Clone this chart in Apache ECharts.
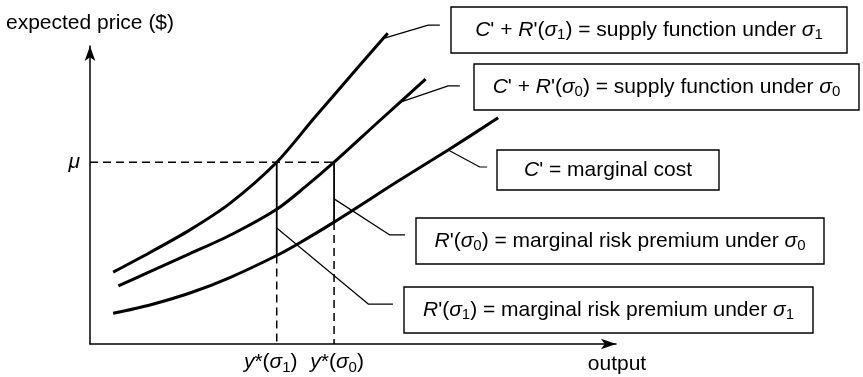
<!DOCTYPE html>
<html>
<head>
<meta charset="utf-8">
<title>supply under risk</title>
<script src="https://cdn.jsdelivr.net/npm/echarts@6/dist/echarts.min.js"></script>
<style>
    html, body { margin: 0; padding: 0; background: #fff; }
    #main { width: 863px; height: 377px; }
</style>
</head>
<body>
<div id="main"></div>
<script type="text/javascript">
    // curves, [output, price] in axis units (0..10)
    var supplySigma1 = [[0.44, 2.41], [1.14, 3.07], [1.90, 3.83], [2.66, 4.72], [3.55, 6.10],
        [4.27, 7.60], [5.03, 9.15], [5.66, 10.43]];
    var supplySigma0 = [[0.54, 1.95], [1.14, 2.43], [1.90, 3.03], [2.72, 3.70], [3.55, 4.52],
        [4.09, 5.27], [4.64, 6.10], [5.51, 7.50], [6.38, 8.89]];
    var marginalCost = [[0.44, 1.03], [1.14, 1.31], [1.90, 1.71], [2.66, 2.23], [3.55, 2.97],
        [3.99, 3.40], [4.64, 4.09], [5.89, 5.50], [6.81, 6.51], [7.76, 7.59]];

    var mu = 6.10;
    var yStar1 = 3.55;
    var yStar0 = 4.64;
    var costAtY1 = 2.97;   // marginal cost at y*(sigma1)
    var costAtY0 = 4.09;   // marginal cost at y*(sigma0)

    // leader lines from curves to their captions
    var leaderSupply1 = [[5.55, 10.24], [6.43, 10.70], [6.65, 10.70]];
    var leaderSupply0 = [[5.86, 8.09], [6.81, 8.66], [7.03, 8.66]];
    var leaderCost = [[6.81, 6.51], [7.41, 5.94], [7.55, 5.94]];
    var leaderRisk0 = [[yStar0, 4.87], [5.70, 3.66], [5.99, 3.66]];
    var leaderRisk1 = [[yStar1, 3.89], [5.29, 1.34], [5.76, 1.34]];

    var FONT = '"Liberation Sans", Arial, Helvetica, sans-serif';
    var rich = {
        n: {fontSize: 21, lineHeight: 25, fontFamily: FONT, color: '#000', fill: '#000'},
        i: {fontSize: 21, lineHeight: 25, fontFamily: FONT, fontStyle: 'italic', color: '#000', fill: '#000'},
        s: {fontSize: 15, lineHeight: 15, fontFamily: FONT, verticalAlign: 'bottom', color: '#000', fill: '#000'}
    };

    var captions = [
        {box: [451, 7, 396, 46], text: "{i|C}{n|' + }{i|R}{n|'(}{i|σ}{s|1}{n|) = supply function under }{i|σ}{s|1}"},
        {box: [474, 64, 385, 46], text: "{i|C}{n|' + }{i|R}{n|'(}{i|σ}{s|0}{n|) = supply function under }{i|σ}{s|0}"},
        {box: [497, 150, 222, 40], text: "{i|C}{n|' = marginal cost}"},
        {box: [416, 218, 408, 46], text: "{i|R}{n|'(}{i|σ}{s|0}{n|) = marginal risk premium under }{i|σ}{s|0}"},
        {box: [404, 287, 409, 46], text: "{i|R}{n|'(}{i|σ}{s|1}{n|) = marginal risk premium under }{i|σ}{s|1}"}
    ];

    var graphics = [];
    captions.forEach(function (c) {
        graphics.push({
            type: 'rect',
            shape: {x: c.box[0], y: c.box[1], width: c.box[2], height: c.box[3]},
            style: {fill: '#fff', stroke: '#000', lineWidth: 1.4},
            z: 10
        });
        graphics.push({
            type: 'text',
            x: c.box[0] + c.box[2] / 2,
            y: c.box[1] + c.box[3] / 2,
            style: {text: c.text, rich: rich, align: 'center', verticalAlign: 'middle', fill: '#000'},
            z: 11
        });
    });

    function line(data, width, type) {
        return {
            type: 'line',
            data: data,
            symbol: 'none',
            clip: false,
            silent: true,
            lineStyle: {color: '#000', width: width, type: type || 'solid'}
        };
    }
    function curve(data) {
        var s = line(data, 3);
        s.smooth = 0.3;
        return s;
    }

    var chart = echarts.init(document.getElementById('main'));
    var option = {
        animation: false,
        backgroundColor: '#fff',
        grid: {left: 90, right: 247, top: 46, bottom: 33, containLabel: false, outerBoundsMode: 'none'},
        xAxis: {
            type: 'value', min: 0, max: 10,
            name: 'output', nameLocation: 'end', nameGap: 1, nameMoveOverlap: false,
            nameTextStyle: {fontSize: 21, fontFamily: FONT, color: '#000', align: 'center', verticalAlign: 'top', padding: [10, 0, 0, 0]},
            axisLine: {show: true, symbol: ['none', 'arrow'], symbolSize: [8, 15], lineStyle: {color: '#000', width: 1.5}},
            axisTick: {show: false},
            splitLine: {show: false},
            axisLabel: {show: false}
        },
        yAxis: {
            type: 'value', min: 0, max: 10,
            name: 'expected price ($)', nameLocation: 'end', nameGap: 12, nameMoveOverlap: false,
            nameTextStyle: {fontSize: 21, fontFamily: FONT, color: '#000'},
            axisLine: {show: true, symbol: ['none', 'arrow'], symbolSize: [8, 15], lineStyle: {color: '#000', width: 1.5}},
            axisTick: {show: false},
            splitLine: {show: false},
            axisLabel: {
                customValues: [mu],
                margin: 10,
                formatter: function () { return '{i|μ}'; },
                rich: rich
            }
        },
        series: [
            curve(supplySigma1),
            curve(supplySigma0),
            curve(marginalCost),
            line([[0, mu], [yStar0, mu]], 1.5, [8, 5]),
            line([[yStar1, mu], [yStar1, costAtY1]], 1.8),
            line([[yStar1, costAtY1], [yStar1, 0]], 1.5, [8, 5]),
            line([[yStar0, mu], [yStar0, costAtY0]], 1.8),
            line([[yStar0, costAtY0], [yStar0, 0]], 1.5, [8, 5]),
            line(leaderSupply1, 1.2),
            line(leaderSupply0, 1.2),
            line(leaderCost, 1.2),
            line(leaderRisk0, 1.2),
            line(leaderRisk1, 1.2),
            {
                // y*(σ) labels under the output axis
                type: 'scatter',
                symbolSize: 0,
                silent: true,
                clip: false,
                itemStyle: {color: '#000', opacity: 1},
                data: [
                    {value: [yStar1, 0], label: {offset: [-6, 0], formatter: '{i|y}{n|*(}{i|σ}{s|1}{n|)}'}},
                    {value: [yStar0, 0], label: {offset: [3, 0], formatter: '{i|y}{n|*(}{i|σ}{s|0}{n|)}'}}
                ],
                label: {show: true, position: 'bottom', distance: 6, color: '#000', opacity: 1, rich: rich}
            }
        ],
        graphic: graphics
    };
    chart.setOption(option);
</script>
</body>
</html>
